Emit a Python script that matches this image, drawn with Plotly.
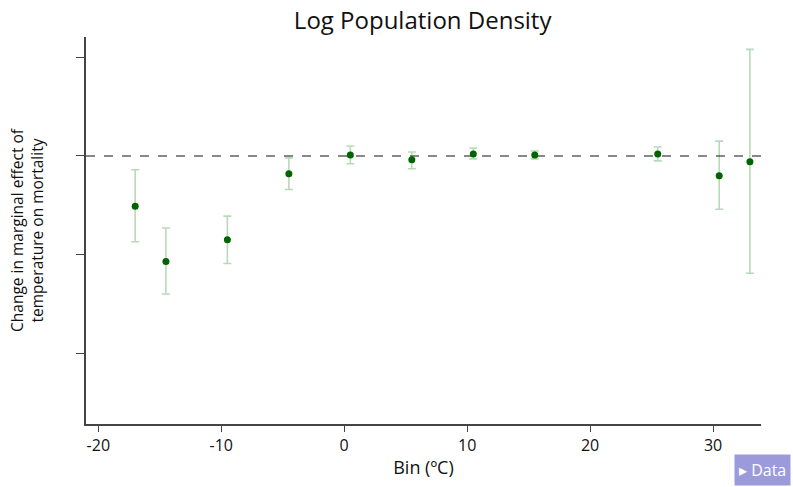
import plotly.graph_objects as go

bins = [-17.0, -14.5, -9.5, -4.5, 0.5, 5.5, 10.5, 15.5, 25.5, 30.5, 33.0]
effect = [-0.0051, -0.0107, -0.0085, -0.0018, 0.0001, -0.0004, 0.0002, 0.0001, 0.0002, -0.0020, -0.0006]
upper = [-0.0014, -0.0073, -0.0061, -0.0002, 0.0010, 0.0004, 0.0008, 0.0005, 0.0009, 0.0015, 0.0108]
lower = [-0.0087, -0.0140, -0.0109, -0.0034, -0.0008, -0.0013, -0.0003, -0.0003, -0.0005, -0.0054, -0.0119]
x_ticks = [-20, -10, 0, 10, 20, 30]
x_tick_labels = ["-20", "-10", "0", "10", "20", "30"]
y_ticks = [0.01, 0.0, -0.01, -0.02]

err_plus = [u - e for u, e in zip(upper, effect)]
err_minus = [e - l for e, l in zip(effect, lower)]

font = "Open Sans, Lato, sans-serif"

fig = go.Figure()
fig.add_trace(go.Scatter(
    x=bins, y=effect, mode="markers",
    marker=dict(color="#006400", size=7),
    error_y=dict(type="data", symmetric=False, array=err_plus, arrayminus=err_minus,
                 color="rgba(0,120,0,0.28)", thickness=1.6, width=4),
    showlegend=False,
))

fig.add_shape(type="line", xref="paper", yref="y", x0=0, x1=1, y0=0, y1=0,
              line=dict(color="#888888", width=2, dash="dash"), layer="below")

fig.update_layout(
    width=793, height=487,
    margin=dict(l=86, r=32, t=37, b=58),
    paper_bgcolor="white", plot_bgcolor="white",
    font=dict(family=font, size=15, color="#111"),
    title=dict(text="Log Population Density", x=0.533, xanchor="center", y=0.958, yanchor="middle",
               font=dict(size=24, color="#111")),
    xaxis=dict(range=[-21, 33.9], tickvals=x_ticks, ticktext=x_tick_labels,
               ticks="outside", ticklen=6,
               tickcolor="#444", showline=True, linecolor="#444", linewidth=1.5,
               showgrid=False, zeroline=False,
               title=dict(text="Bin (ºC)", font=dict(size=18), standoff=6),
               tickfont=dict(size=16)),
    yaxis=dict(range=[-0.02717, 0.01205], tickvals=y_ticks, showticklabels=False,
               ticks="outside", ticklen=8, tickcolor="#444",
               showline=True, linecolor="#444", linewidth=1.5,
               showgrid=False, zeroline=False,
               title=dict(text="Change in marginal effect of<br>temperature on mortality",
                          font=dict(size=15.5), standoff=29)),
    annotations=[dict(text="▸ Data", xref="paper", yref="paper", x=1.044, y=-0.12,
                      xanchor="right", yanchor="middle", showarrow=False,
                      font=dict(color="white", size=16, family=font),
                      bgcolor="#9b9bdc", borderpad=4)],
)

fig.write_html("out.html")
